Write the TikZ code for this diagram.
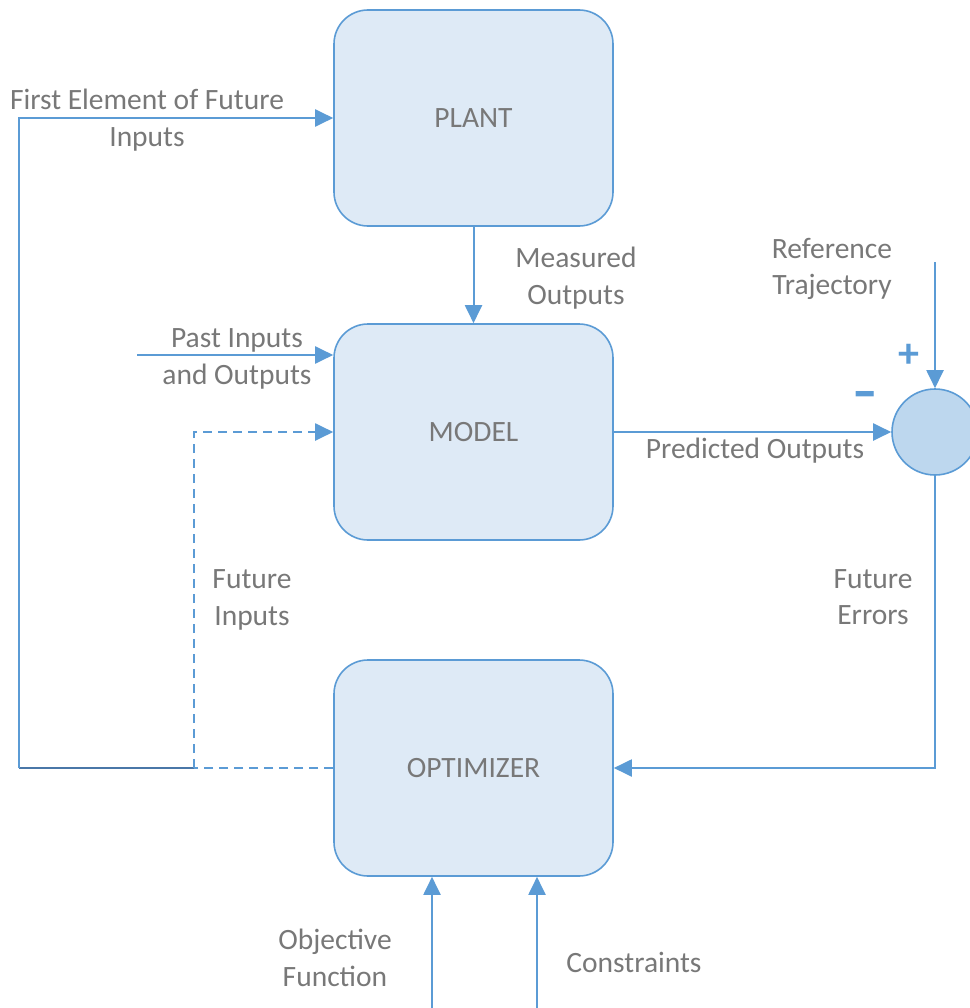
\documentclass[tikz,border=0pt]{standalone}
\usepackage{fontspec}
\setmainfont{Carlito}
\usetikzlibrary{arrows.meta}
\definecolor{lineblue}{HTML}{5B9BD5}
\definecolor{darkblue}{HTML}{4A77A8}
\definecolor{boxfill}{HTML}{DEEAF6}
\definecolor{sumfill}{HTML}{BDD7EE}
\definecolor{txtgrey}{HTML}{787878}
\tikzset{
  blk/.style={draw=lineblue, line width=1.6pt, fill=boxfill, rounded corners=34pt,
    minimum width=279pt, minimum height=216pt, inner sep=0pt,
    text=txtgrey, font=\fontsize{29.5}{36}\selectfont},
  lbl/.style={text=txtgrey, font=\fontsize{29.5}{36.5}\selectfont, align=center, inner sep=0pt},
  sign/.style={text=lineblue, inner sep=0pt},
  conn/.style={draw=lineblue, line width=2pt, -{Triangle[length=18pt,width=17pt]}},
  plain/.style={draw=lineblue, line width=2pt},
  dashconn/.style={conn, dash pattern=on 9pt off 6pt},
  dashplain/.style={plain, dash pattern=on 9pt off 6pt},
}
\begin{document}
\begin{tikzpicture}[x=1pt,y=-1pt]
\useasboundingbox (0,0) rectangle (969,1008);

% blocks
\node[blk] (plant) at (473.5,118) {PLANT};
\node[blk] (model) at (473.5,432) {MODEL};
\node[blk] (opt)   at (473.5,768) {OPTIMIZER};
\node[draw=lineblue, line width=1.6pt, fill=sumfill, circle, minimum size=86pt, inner sep=0pt] (sum) at (935,432) {};

% free ends and corners
\coordinate (j)     at (194,768);
\coordinate (lb)    at (19,768);
\coordinate (lt)    at (19,118);
\coordinate (jt)    at (194,432);
\coordinate (past)  at (137,355);
\coordinate (ref)   at (935,262);
\coordinate (objin) at (432,1008);
\coordinate (conin) at (537,1008);

% connectors
\draw[conn] (plant.south) -- (model.north);
\draw[dashplain] (opt.west) -- (j);
\draw[plain, draw=darkblue] (j) -- (lb);
\draw[conn] (lb) -- (lt) -- (plant.west);
\draw[dashconn] (j) -- (jt) -- (model.west);
\draw[conn] (past) -- (past -| model.west);
\draw[conn] (model.east) -- (sum.west);
\draw[conn] (ref) -- (sum.north);
\draw[conn] (sum.south) -- (sum.south |- opt.east) -- (opt.east);
\draw[conn] (objin) -- (objin |- opt.south);
\draw[conn] (conin) -- (conin |- opt.south);

% labels
\node[lbl] (lfirst) at (147,120) {First Element of Future\\Inputs};
\node[lbl] (lmeas)  at (576,278) {Measured\\Outputs};
\node[lbl] (lref)   at (832,269) {Reference\\Trajectory};
\node[lbl] (lpast)  at (237,359) {Past Inputs\\and Outputs};
\node[lbl] (lpred)  at (755,451) {Predicted Outputs};
\node[lbl] (lfin)   at (252,600) {Future\\Inputs};
\node[lbl] (lfer)   at (873,597) {Future\\Errors};
\node[lbl] (lobj)   at (335,958) {Objective\\Function};
\node[lbl] (lcon)   at (634,962) {Constraints};
\node[sign, font=\fontsize{42}{42}\selectfont\bfseries] (lplus) at (909,356) {+};
\node[sign, font=\fontsize{34}{34}\selectfont\bfseries] (lminus) at (865,401) {\scalebox{1.5}[1.8]{\textendash}};
\end{tikzpicture}
\end{document}
